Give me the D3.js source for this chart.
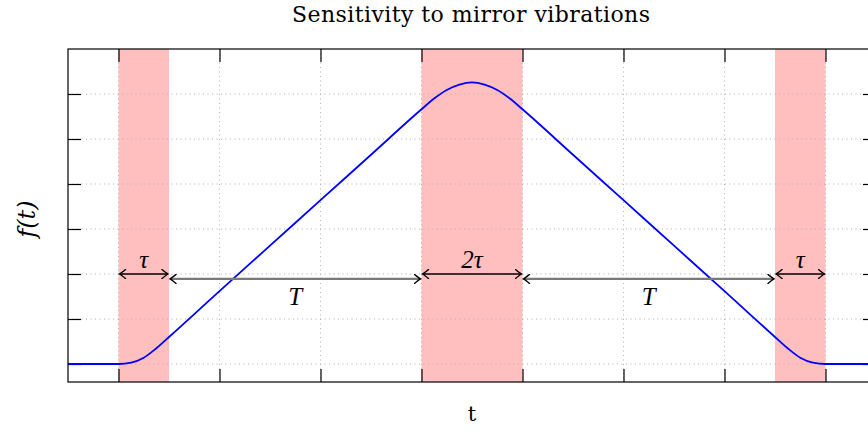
<!DOCTYPE html>
<html>
<head>
<meta charset="utf-8">
<script src="https://cdn.jsdelivr.net/npm/d3@7/dist/d3.min.js"></script>
<style>
  html, body { margin: 0; padding: 0; background: #fff; overflow: hidden; }
  svg { display: block; font-family: "Liberation Serif", "DejaVu Serif", serif; }
  text { fill: #000; }
</style>
</head>
<body>
<svg id="chart" width="868" height="432"></svg>
<script>
// Sampled response curve f(t)
const tValues = [-0.5, 0, 0.125, 0.25, 0.375, 0.5, 1.0, 1.5, 2.0, 2.5, 3.0, 3.125, 3.25, 3.375, 3.5,
                 3.625, 3.75, 3.875, 4.0, 4.5, 5.0, 5.5, 6.0, 6.5, 6.625, 6.75, 6.875, 7.0, 7.5];
const fValues = [0, 0, 0.03, 0.14, 0.35, 0.6, 1.62, 2.63, 3.64, 4.65, 5.66, 5.90, 6.09, 6.21, 6.26,
                 6.21, 6.09, 5.90, 5.66, 4.65, 3.64, 2.63, 1.62, 0.6, 0.35, 0.14, 0.03, 0, 0];

// Shaded intervals [start, end]
const bandStarts = [0, 3, 6.5];
const bandEnds   = [0.5, 4, 7];

// Interval annotations
const arrowStarts = [0, 0.5, 3, 4, 6.5];
const arrowEnds   = [0.5, 3, 4, 6.5, 7];
const arrowLevels = [2.0, 1.89, 2.0, 1.89, 2.0];
const arrowLabels = ["τ", "T", "2τ", "T", "τ"];
const arrowKinds  = ["short", "long", "short", "long", "short"];

// Axis ticks (labels hidden)
const xTicks = [0, 1, 2, 3, 4, 5, 6, 7];
const yTicks = [0, 1, 2, 3, 4, 5, 6];

const xDomain = [-0.5, 7.5];
const yDomain = [-0.4, 7.0];

const svg = d3.select("#chart");
const plotLeft = 68, plotRight = 876, plotTop = 49, plotBottom = 382;

const x = d3.scaleLinear().domain(xDomain).range([plotLeft, plotRight]);
const y = d3.scaleLinear().domain(yDomain).range([plotBottom, plotTop]);

// Shaded bands
svg.append("g").selectAll("rect")
  .data(bandStarts.map((s, i) => [s, bandEnds[i]]))
  .join("rect")
  .attr("x", d => x(d[0]))
  .attr("y", plotTop)
  .attr("width", d => x(d[1]) - x(d[0]))
  .attr("height", plotBottom - plotTop)
  .attr("fill", "#ffbfbf");

// Dotted grid
const grid = svg.append("g")
  .attr("stroke", "#b0b0b0")
  .attr("stroke-width", 1)
  .attr("stroke-dasharray", "1,3.5");
grid.selectAll("line.gx").data(xTicks).join("line")
  .attr("class", "gx")
  .attr("x1", d => x(d)).attr("x2", d => x(d))
  .attr("y1", plotTop).attr("y2", plotBottom);
grid.selectAll("line.gy").data(yTicks).join("line")
  .attr("class", "gy")
  .attr("x1", plotLeft).attr("x2", plotRight)
  .attr("y1", d => y(d)).attr("y2", d => y(d));

// Axes: inward ticks on all four sides, no labels
const tickLen = 13;
const axisStyle = g => {
  g.select(".domain").remove();
  g.selectAll(".tick text").remove();
  g.selectAll(".tick line").attr("stroke", "#000").attr("stroke-width", 1.2);
};
svg.append("g").attr("transform", `translate(0,${plotBottom})`)
  .call(d3.axisBottom(x).tickValues(xTicks).tickSize(-tickLen)).call(axisStyle);
svg.append("g").attr("transform", `translate(0,${plotTop})`)
  .call(d3.axisTop(x).tickValues(xTicks).tickSize(-tickLen)).call(axisStyle);
svg.append("g").attr("transform", `translate(${plotLeft},0)`)
  .call(d3.axisLeft(y).tickValues(yTicks).tickSize(-tickLen)).call(axisStyle);
svg.append("g").attr("transform", `translate(${plotRight},0)`)
  .call(d3.axisRight(y).tickValues(yTicks).tickSize(-tickLen)).call(axisStyle);

// Curve
const line = d3.line()
  .x(d => x(d[0]))
  .y(d => y(d[1]))
  .curve(d3.curveMonotoneX);
svg.append("path")
  .datum(tValues.map((t, i) => [t, fValues[i]]))
  .attr("fill", "none")
  .attr("stroke", "#0000ff")
  .attr("stroke-width", 1.8)
  .attr("d", line);

// Frame
svg.append("rect")
  .attr("x", plotLeft).attr("y", plotTop)
  .attr("width", plotRight - plotLeft).attr("height", plotBottom - plotTop)
  .attr("fill", "none").attr("stroke", "#000").attr("stroke-width", 1.2);

// Arrowhead marker
const defs = svg.append("defs");
defs.append("marker")
  .attr("id", "head")
  .attr("viewBox", "-7 -5 9 10")
  .attr("refX", 0).attr("refY", 0)
  .attr("markerWidth", 9).attr("markerHeight", 10)
  .attr("markerUnits", "userSpaceOnUse")
  .attr("orient", "auto-start-reverse")
  .append("path")
  .attr("d", "M-6,-4.5 Q-1.5,-0.8 0,0 Q-1.5,0.8 -6,4.5")
  .attr("fill", "none")
  .attr("stroke", "#000")
  .attr("stroke-width", 1.4)
  .attr("stroke-linecap", "round");

const ann = svg.append("g");
arrowStarts.forEach((s, i) => {
  const e = arrowEnds[i];
  const yy = y(arrowLevels[i]);
  const isLong = arrowKinds[i] === "long";
  ann.append("line")
    .attr("x1", x(s) + 1).attr("x2", x(e) - 1)
    .attr("y1", yy).attr("y2", yy)
    .attr("stroke", isLong ? "#7a7a7a" : "#000")
    .attr("stroke-width", isLong ? 2.2 : 1.3)
    .attr("marker-start", "url(#head)")
    .attr("marker-end", "url(#head)");
  ann.append("text")
    .attr("x", x((s + e) / 2))
    .attr("y", isLong ? yy + 26 : yy - 6)
    .attr("text-anchor", "middle")
    .attr("font-size", 25)
    .attr("font-style", "italic")
    .text(arrowLabels[i]);
});

// Title and axis labels
svg.append("text")
  .attr("x", 471).attr("y", 22)
  .attr("text-anchor", "middle")
  .style("font-family", "'DejaVu Serif', serif")
  .attr("font-size", 22)
  .attr("textLength", 358)
  .attr("lengthAdjust", "spacing")
  .text("Sensitivity to mirror vibrations");

svg.append("text")
  .attr("x", 472).attr("y", 421)
  .attr("text-anchor", "middle")
  .style("font-family", "'DejaVu Serif', serif")
  .attr("font-size", 21)
  .text("t");

svg.append("text")
  .attr("transform", "translate(35,219) rotate(-90)")
  .attr("text-anchor", "middle")
  .style("font-family", "'DejaVu Serif', serif")
  .attr("font-size", 24)
  .attr("font-style", "italic")
  .text("f(t)");
</script>
</body>
</html>
